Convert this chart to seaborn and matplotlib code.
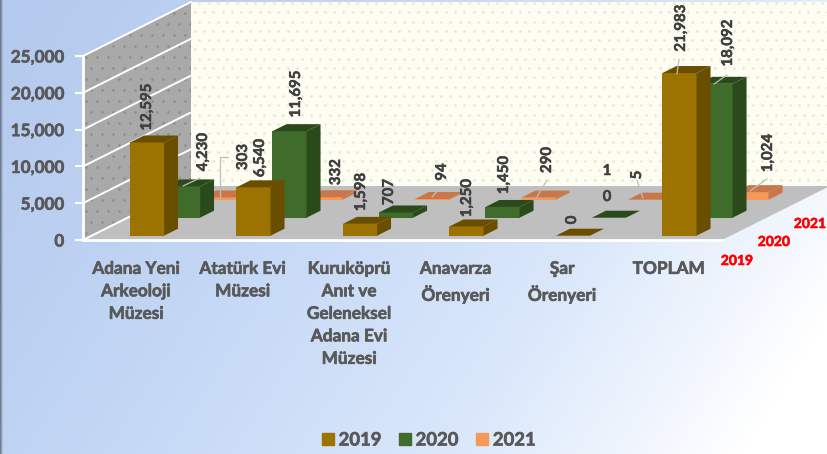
import numpy as np
import pandas as pd
import matplotlib
matplotlib.use("Agg")
import matplotlib.pyplot as plt
import matplotlib.patheffects as pe
from matplotlib.colors import LinearSegmentedColormap
from matplotlib.lines import Line2D
from matplotlib.patches import Polygon
from matplotlib.ticker import MultipleLocator, FuncFormatter
from matplotlib.transforms import IdentityTransform
import seaborn as sns

categories = ["Adana Yeni\nArkeoloji\nMüzesi", "Atatürk Evi\nMüzesi",
              "Kuruköprü\nAnıt ve\nGeleneksel\nAdana Evi\nMüzesi",
              "Anavarza\nÖrenyeri", "Şar\nÖrenyeri", "TOPLAM"]
years = ["2019", "2020", "2021"]
values_2019 = [12595, 6540, 1598, 1250, 0, 21983]
values_2020 = [4230, 11695, 707, 1450, 0, 18092]
values_2021 = [303, 332, 94, 290, 5, 1024]
series_values = {"2019": values_2019, "2020": values_2020, "2021": values_2021}

front_colors = ["#9c7200", "#3f6b2b", "#f4995a"]
shade_colors = ["#6a4e00", "#2a4a1b", "#c9774a"]
text_color = "#595959"

sns.set_theme(style="white")
plt.rcParams["font.family"] = ["Lato", "DejaVu Sans"]

W, H = 827, 454
fig = plt.figure(figsize=(W / 100, H / 100), dpi=100)
thick = [pe.withStroke(linewidth=0.45, foreground=text_color)]
thick_dark = [pe.withStroke(linewidth=0.35, foreground="#404040")]
thick_red = [pe.withStroke(linewidth=0.4, foreground="#ff0000")]


def place(x, y_bottom, w, h, z):
    a = fig.add_axes([x / W, 1 - y_bottom / H, w / W, h / H], zorder=z)
    a.patch.set_alpha(0)
    return a


# gradient background
bg = place(0, H, W, H, 0)
xx, yy = np.meshgrid(np.linspace(0, 1, W), np.linspace(0, 1, H))
grad = np.clip(0.80 * xx + 0.28 * yy, 0, 1) ** 1.25
cmap = LinearSegmentedColormap.from_list(
    "bg", ["#b4caee", "#c6d9f6", "#dbe8fb", "#ffffff"])
img = cmap(grad)
for col, k in zip(range(3), [0.6, 0.75, 0.9]):
    img[:, col, :3] *= k
bg.imshow(img, aspect="auto", extent=(0, W, H, 0))
bg.axis("off")

# base axes: value axis, category axis and the walls
FLOOR_W, AXIS_H = 639, 184
DEPTH = np.array([108, 54])
base = place(83, 240, FLOOR_W, AXIS_H, 1)
base.set_xlim(-0.5, 5.5)
base.set_ylim(0, 25000)
identity = IdentityTransform()


def to_disp(a, x, y):
    return a.transData.transform((x, y))


p00 = to_disp(base, -0.5, 0)
p10 = to_disp(base, 5.5, 0)
p01 = to_disp(base, -0.5, 25000)
p11 = to_disp(base, 5.5, 25000)

left_wall = Polygon([p00, p01, p01 + DEPTH, p00 + DEPTH], closed=True, fc="#a9a9a9",
                    ec="none", transform=identity, zorder=1, clip_on=False)
back_wall = Polygon([p00 + DEPTH, p01 + DEPTH, p11 + DEPTH, p10 + DEPTH], closed=True,
                    fc="#fdfdf3", ec="none", transform=identity, zorder=1, clip_on=False)
floor = Polygon([p00, p10, p10 + DEPTH, p00 + DEPTH], closed=True, fc="#bfbfbf",
                ec="none", transform=identity, zorder=2, clip_on=False)
for poly in (left_wall, back_wall, floor):
    base.add_patch(poly)


def dots(spacing, x0, x1, y0, y1, color, size, clip):
    gx, gy = [], []
    for i, y in enumerate(np.arange(y0, y1, spacing)):
        xs = np.arange(x0 + (i % 2) * spacing / 2, x1, spacing)
        gx += list(xs)
        gy += [y] * len(xs)
    s = base.scatter(gx, gy, s=size, c=color, lw=0, transform=identity, zorder=1.5)
    s.set_clip_path(clip)


dots(11, 80, 195, 210, 460, "#8b9180", 3.5, left_wall)
dots(9.3, 190, 830, 265, 460, "#e6e9c0", 3.5, back_wall)

# white gridlines on the side wall
for v in range(0, 25001, 5000):
    p = to_disp(base, -0.5, v)
    base.plot([p[0], p[0] + DEPTH[0]], [p[1], p[1] + DEPTH[1]], color="white", lw=1.4,
              transform=identity, zorder=3, clip_on=False)

base.set_xticks(range(6))
base.set_xticklabels(categories, fontsize=12.4, fontweight="bold", color=text_color,
                     linespacing=1.5, va="top", path_effects=thick)
base.yaxis.set_major_locator(MultipleLocator(5000))
base.yaxis.set_minor_locator(MultipleLocator(1000))
base.yaxis.set_major_formatter(FuncFormatter(lambda v, _: f"{int(v):,}"))
for lab in base.get_yticklabels():
    lab.set_fontsize(12.3)
    lab.set_fontweight("bold")
    lab.set_color(text_color)
    lab.set_path_effects(thick)
base.tick_params(axis="x", length=0, pad=15)
base.tick_params(axis="y", which="major", length=11, width=1.5, color="white",
                 direction="inout", pad=8, left=True)
base.tick_params(axis="y", which="minor", length=5, width=1.3, color="white",
                 direction="in", left=True)
for name, sp in base.spines.items():
    sp.set_visible(name in ("left", "bottom"))
    sp.set_color("white")
    sp.set_linewidth(2)
    sp.set_zorder(4)

# one axes per depth row, the nearest on top
BAR_DEPTH = np.array([14, 7])
for r, year in reversed(list(enumerate(years))):
    a = place(83 + 10.75 + 36 * r, 240 - 4.3 - 18 * r, FLOOR_W, 185, 4 - r)
    frame = pd.DataFrame({"museum": categories, "visitors": series_values[year]})
    sns.barplot(data=frame, x="museum", y="visitors", color=front_colors[r], width=0.32,
                saturation=1, ax=a, order=categories, linewidth=0)
    a.set_xlim(-0.5, 5.5)
    a.set_ylim(0, 25000)
    a.axis("off")
    for bar in list(a.patches):
        x0, y0 = bar.get_x(), bar.get_y()
        x1, y1 = x0 + bar.get_width(), y0 + bar.get_height()
        br = to_disp(a, x1, y0)
        tr = to_disp(a, x1, y1)
        tl = to_disp(a, x0, y1)
        a.add_patch(Polygon([br, tr, tr + BAR_DEPTH, br + BAR_DEPTH], closed=True,
                            fc=shade_colors[r], ec="none", transform=identity, clip_on=False))
        a.add_patch(Polygon([tl, tr, tr + BAR_DEPTH, tl + BAR_DEPTH], closed=True,
                            fc=shade_colors[r], ec="none", transform=identity, clip_on=False))

# overlay in pixel coordinates for labels and leaders
over = place(0, H, W, H, 10)
over.set_xlim(0, W)
over.set_ylim(H, 0)
over.axis("off")

label_text = ["12,595", "4,230", "303", "6,540", "11,695", "332", "1,598", "707", "94",
              "1,250", "1,450", "290", "0", "1", "0", "5", "21,983", "18,092", "1,024"]
label_x = [147, 203, 243, 260, 296, 336, 361, 389, 442, 467, 504, 547, 572, 607, 607, 637, 681, 728, 768]
label_y = [107, 152, 157, 158, 94, 172, 192, 192, 172, 198, 175, 160, 220, 171, 197, 175, 28, 43, 153]
label_rot = [90, 90, 90, 90, 90, 90, 90, 90, 90, 90, 90, 90, 90, 0, 0, 90, 90, 90, 90]
for t, x, y, rot in zip(label_text, label_x, label_y, label_rot):
    over.text(x, y, t, rotation=rot, ha="center", va="center", fontsize=10.8,
              fontweight="bold", color="#404040", path_effects=thick_dark)

leaders = [([183, 200], [186, 178]), ([220, 220, 228], [197, 157, 157]),
           ([432, 441], [197, 187]), ([537, 547], [197, 180]), ([643, 637], [198, 180]),
           ([677, 679], [74, 59]), ([714, 727], [84, 75]), ([750, 767], [191, 179])]
for lx, ly in leaders:
    over.plot(lx, ly, color="#bdbdbd", lw=0.9)

for year, x, y in zip(years, [737, 774, 810], [261, 242, 224]):
    over.text(x, y, year, color="#ff0000", fontsize=10, fontweight="bold",
              ha="center", va="center", path_effects=thick_red)

handles = [Line2D([], [], marker="s", ls="", ms=8.3, mfc=c, mec=c, label=y)
           for c, y in zip(front_colors, years)]
leg = fig.legend(handles=handles, ncol=3, loc="center", bbox_to_anchor=(428 / W, 1 - 440 / H),
                 frameon=False, handlelength=0.8, handletextpad=0.2, columnspacing=0.84, borderpad=0,
                 prop={"size": 13.3, "weight": "bold", "family": "Lato"})
for t in leg.get_texts():
    t.set_color(text_color)
    t.set_path_effects(thick)

fig.savefig("out.png", dpi=100)
